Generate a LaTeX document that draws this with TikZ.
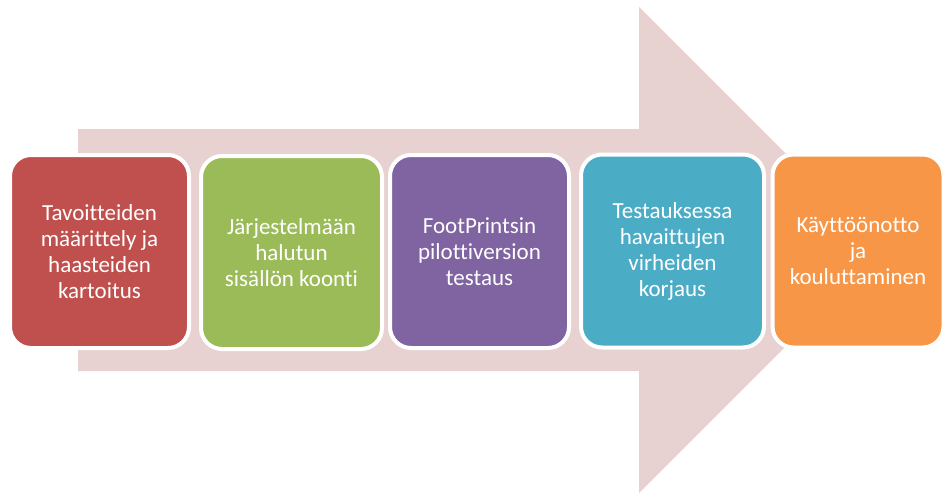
\documentclass[tikz,border=0pt]{standalone}
\usepackage{fontspec}
\setmainfont[RawFeature=-liga]{Carlito}
\definecolor{arrowpink}{HTML}{E8D1D1}
\definecolor{stepred}{HTML}{C0504D}
\definecolor{stepgreen}{HTML}{9BBB59}
\definecolor{steppurple}{HTML}{8064A2}
\definecolor{stepteal}{HTML}{4BACC6}
\definecolor{steporange}{HTML}{F79646}
\begin{document}
\begin{tikzpicture}[x=1pt,y=-1pt,
  stepbox/.style={rectangle, draw=white, line width=4pt, rounded corners=21pt,
    minimum height=193pt, text=white, align=center, inner sep=0pt,
    font=\fontsize{23}{26}\selectfont}]
  \useasboundingbox (0,0) rectangle (944,495);
  % background arrow
  \fill[arrowpink] (78,129) -- (639,129) -- (639,7) -- (882,250)
    -- (639,493) -- (639,371) -- (78,371) -- cycle;
  % process steps
  \node[stepbox, fill=stepred, minimum width=179pt] (s1) at (99.5,251.5)
    {Tavoitteiden\\määrittely ja\\haasteiden\\kartoitus};
  \node[stepbox, fill=stepgreen, minimum width=181pt] (s2) at (291.5,252.5)
    {Järjestelmään\\halutun\\sisällön koonti};
  \node[stepbox, fill=steppurple, minimum width=179pt] (s3) at (479.5,251.5)
    {FootPrintsin\\pilottiversion\\testaus};
  \node[stepbox, fill=stepteal, minimum width=183pt] (s4) at (672.5,251)
    {Testauksessa\\havaittujen\\virheiden\\korjaus};
  \node[stepbox, fill=steporange, minimum width=171pt] (s5) at (858,251)
    {Käyttöönotto\\ja\\kouluttaminen};
\end{tikzpicture}
\end{document}
